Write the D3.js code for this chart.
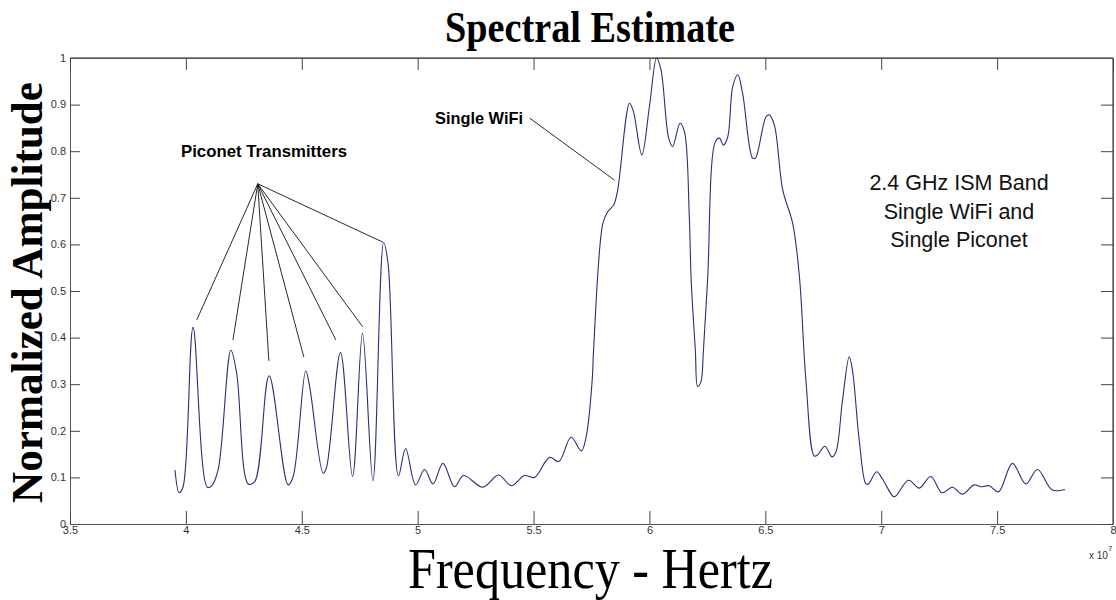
<!DOCTYPE html>
<html>
<head>
<meta charset="utf-8">
<script src="https://cdn.jsdelivr.net/npm/d3@7"></script>
<style>
  body { margin: 0; background: #fff; }
  svg { display: block; }
  .tick text { font-family: "Liberation Sans", Arial, sans-serif; font-size: 11px; fill: #333; }
</style>
</head>
<body>
<script>
// frequency in units of 1e7 Hz, amplitude normalized
var freq = [3.953, 3.971, 3.988, 4.031, 4.092, 4.111, 4.139, 4.194, 4.219, 4.269, 4.297, 4.359,
  4.441, 4.463, 4.517, 4.534, 4.592, 4.606, 4.667, 4.719, 4.762, 4.807, 4.853, 4.872, 4.917,
  4.948, 4.991, 5.030, 5.066, 5.109, 5.159, 5.198, 5.281, 5.349, 5.404, 5.461, 5.504, 5.569,
  5.609, 5.662, 5.706, 5.727, 5.753, 5.759, 5.799, 5.820, 5.846, 5.863, 5.914, 5.931, 5.967,
  6.000, 6.031, 6.050, 6.083, 6.100, 6.132, 6.151, 6.172, 6.180, 6.198, 6.208, 6.222, 6.233,
  6.251, 6.284, 6.302, 6.319, 6.338, 6.359, 6.381, 6.402, 6.445, 6.457, 6.503, 6.517, 6.539,
  6.575, 6.618, 6.647, 6.675, 6.711, 6.725, 6.757, 6.788, 6.805, 6.833, 6.862, 6.876, 6.905,
  6.934, 6.945, 6.980, 7.006, 7.052, 7.063, 7.118, 7.164, 7.214, 7.262, 7.307, 7.350, 7.401,
  7.430, 7.466, 7.506, 7.566, 7.624, 7.674, 7.738, 7.793];
var amp = [0.116, 0.067, 0.080, 0.422, 0.079, 0.082, 0.116, 0.373, 0.324, 0.086, 0.091, 0.318,
  0.084, 0.102, 0.329, 0.295, 0.109, 0.120, 0.368, 0.102, 0.409, 0.093, 0.604, 0.560, 0.103,
  0.162, 0.084, 0.117, 0.086, 0.130, 0.080, 0.104, 0.079, 0.105, 0.082, 0.104, 0.100, 0.143,
  0.134, 0.186, 0.157, 0.187, 0.309, 0.373, 0.645, 0.670, 0.685, 0.717, 0.903, 0.885, 0.792,
  0.896, 1.000, 0.974, 0.828, 0.810, 0.860, 0.842, 0.659, 0.524, 0.373, 0.295, 0.305, 0.373,
  0.524, 0.820, 0.828, 0.813, 0.831, 0.938, 0.964, 0.924, 0.785, 0.785, 0.874, 0.878, 0.856,
  0.717, 0.645, 0.531, 0.309, 0.146, 0.148, 0.167, 0.144, 0.155, 0.266, 0.359, 0.330, 0.180,
  0.086, 0.086, 0.112, 0.096, 0.059, 0.060, 0.094, 0.077, 0.102, 0.067, 0.079, 0.064, 0.084,
  0.080, 0.082, 0.069, 0.130, 0.086, 0.117, 0.073, 0.074];

var xTicks = [3.5, 4, 4.5, 5, 5.5, 6, 6.5, 7, 7.5, 8];
var yTicks = [0, 0.1, 0.2, 0.3, 0.4, 0.5, 0.6, 0.7, 0.8, 0.9, 1];

// annotation leaders (data coords)
var picoHub = [4.310, 0.730];
var picoEndX = [4.047, 4.203, 4.358, 4.509, 4.647, 4.763, 4.849];
var picoEndY = [0.438, 0.395, 0.350, 0.358, 0.395, 0.423, 0.605];
var wifiLeader = [[5.483, 0.871], [5.849, 0.738]];
var boxText = ["2.4 GHz ISM Band", "Single WiFi and", "Single Piconet"];

var width = 1116, height = 600;
var mLeft = 70, mRight = 1113, mTop = 58, mBottom = 524;

var data = freq.map((f, i) => ({ f: f, a: amp[i] }));

var svg = d3.select("body").append("svg")
  .attr("width", width).attr("height", height);

var x = d3.scaleLinear().domain([3.5, 8]).range([mLeft, mRight]);
var y = d3.scaleLinear().domain([0, 1]).range([mBottom, mTop]);

// box
svg.append("line").attr("x1", mLeft).attr("x2", mRight).attr("y1", mTop).attr("y2", mTop)
  .attr("stroke", "#222");
svg.append("line").attr("x1", mRight).attr("x2", mRight).attr("y1", mTop).attr("y2", mBottom)
  .attr("stroke", "#222");

// axes, ticks pointing inward
var axL = svg.append("g").attr("transform", "translate(" + mLeft + ",0)")
  .call(d3.axisLeft(y).tickValues(yTicks).tickSize(-10).tickSizeOuter(0).tickPadding(4)
    .tickFormat(d3.format("")));
var axB = svg.append("g").attr("transform", "translate(0," + mBottom + ")")
  .call(d3.axisBottom(x).tickValues(xTicks).tickSize(-13).tickSizeOuter(0).tickPadding(4)
    .tickFormat(d3.format("")));
svg.append("g").attr("transform", "translate(" + mRight + ",0)")
  .call(d3.axisRight(y).tickValues(yTicks).tickSize(-12).tickSizeOuter(0).tickFormat(""));
svg.append("g").attr("transform", "translate(0," + mTop + ")")
  .call(d3.axisTop(x).tickValues(xTicks).tickSize(-12).tickSizeOuter(0).tickFormat(""));
svg.selectAll(".domain").attr("stroke", "#555");
svg.selectAll(".tick line").attr("stroke", "#444");
axL.selectAll(".tick text").attr("dy", "0.3em");
axB.selectAll(".tick text").attr("dy", "0.55em");

// curve
svg.append("path")
  .datum(data)
  .attr("fill", "none")
  .attr("stroke", "#28307a")
  .attr("stroke-width", 1.1)
  .attr("stroke-linejoin", "round")
  .attr("d", d3.line().curve(d3.curveCatmullRom.alpha(0.5))
    .x(d => x(d.f)).y(d => y(d.a)));

// leaders
svg.selectAll(".pico")
  .data(picoEndX)
  .enter().append("line")
  .attr("class", "pico")
  .attr("x1", x(picoHub[0])).attr("y1", y(picoHub[1]))
  .attr("x2", d => x(d)).attr("y2", (d, i) => y(picoEndY[i]))
  .attr("stroke", "#111").attr("stroke-width", 0.9);
svg.append("line")
  .attr("x1", x(wifiLeader[0][0])).attr("y1", y(wifiLeader[0][1]))
  .attr("x2", x(wifiLeader[1][0])).attr("y2", y(wifiLeader[1][1]))
  .attr("stroke", "#111").attr("stroke-width", 0.9);

// annotation text
svg.append("text")
  .attr("x", 181).attr("y", 157)
  .attr("textLength", 166).attr("lengthAdjust", "spacingAndGlyphs")
  .style("font-family", "Liberation Sans, Arial, sans-serif")
  .style("font-weight", "bold").style("font-size", "17px")
  .text("Piconet Transmitters");
svg.append("text")
  .attr("x", 435).attr("y", 124)
  .attr("textLength", 88).attr("lengthAdjust", "spacingAndGlyphs")
  .style("font-family", "Liberation Sans, Arial, sans-serif")
  .style("font-weight", "bold").style("font-size", "17px")
  .text("Single WiFi");
svg.selectAll(".box")
  .data(boxText)
  .enter().append("text")
  .attr("class", "box")
  .attr("x", 959).attr("y", (d, i) => 190 + i * 28.5)
  .attr("text-anchor", "middle")
  .style("font-family", "Liberation Sans, Arial, sans-serif")
  .style("font-size", "21.5px").style("fill", "#111")
  .text(d => d);

// titles
svg.append("text")
  .attr("x", 445).attr("y", 42)
  .attr("textLength", 290).attr("lengthAdjust", "spacingAndGlyphs")
  .style("font-family", "Liberation Serif, Times New Roman, serif")
  .style("font-weight", "bold").style("font-size", "45px")
  .text("Spectral Estimate");
svg.append("text")
  .attr("x", 408).attr("y", 588)
  .attr("textLength", 365).attr("lengthAdjust", "spacingAndGlyphs")
  .style("font-family", "Liberation Serif, Times New Roman, serif")
  .style("font-size", "58px")
  .text("Frequency - Hertz");
svg.append("text")
  .attr("transform", "translate(42,503) rotate(-90)")
  .attr("textLength", 421).attr("lengthAdjust", "spacingAndGlyphs")
  .style("font-family", "Liberation Serif, Times New Roman, serif")
  .style("font-weight", "bold").style("font-size", "44px")
  .text("Normalized Amplitude");

// exponent
var ex = svg.append("text")
  .attr("x", 1089).attr("y", 559)
  .style("font-family", "Liberation Sans, Arial, sans-serif")
  .style("font-size", "10px").style("fill", "#333");
ex.append("tspan").text("x 10");
ex.append("tspan").attr("dy", -8).style("font-size", "8px").text("7");
</script>
</body>
</html>
